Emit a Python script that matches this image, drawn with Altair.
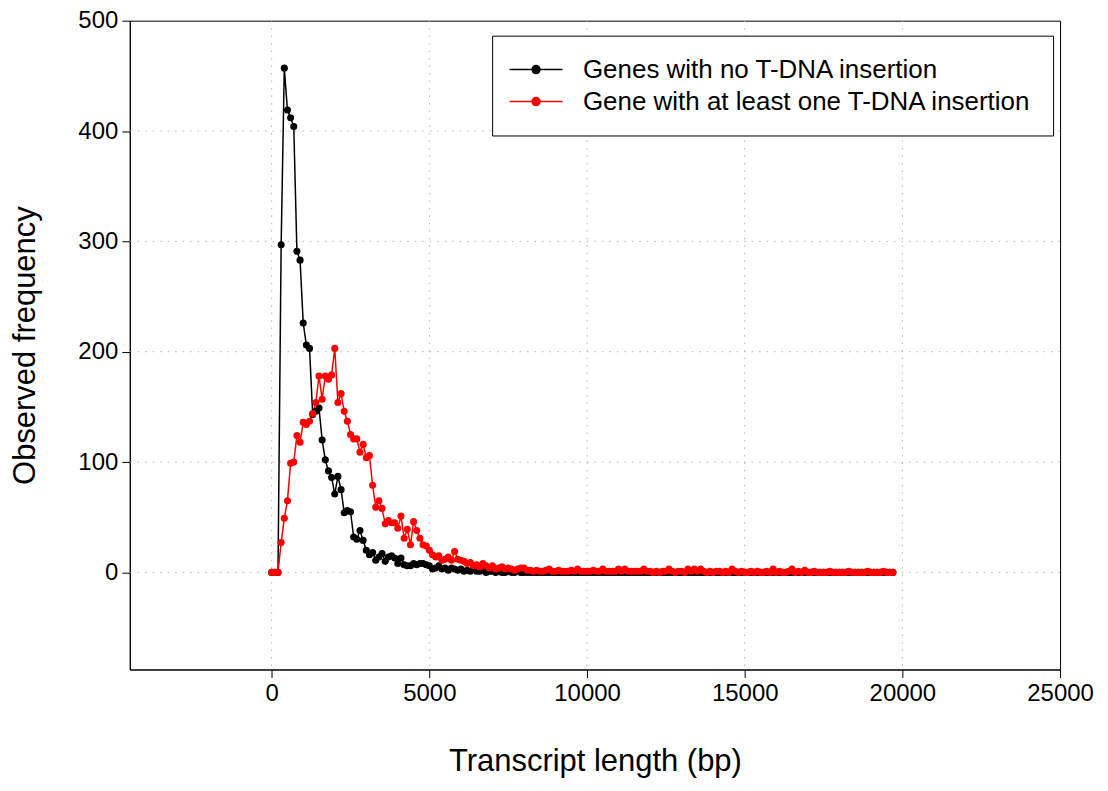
import altair as alt
import pandas as pd

series_names = ["Genes with no T-DNA insertion", "Gene with at least one T-DNA insertion"]
series_colors = ["#000000", "#ff0000"]

# transcript-length bins (bp), 100 bp wide, 0 .. 19700
bin_starts = list(range(0, 19800, 100))

black_values = [
    0, 0, 0, 297, 457, 419, 412, 404, 291, 283,
    226, 206, 203, 143, 146, 149, 120, 102, 92, 86,
    71, 87, 75, 54, 56, 55, 32, 30, 38, 29,
    20, 16, 18, 11, 14, 17, 10, 14, 15, 13,
    8, 13, 7, 6, 6, 8, 7, 8, 8, 7,
    6, 3, 4, 6, 3, 4, 2, 4, 3, 2,
    3, 1, 2, 1, 3, 1, 1, 2, 0, 1,
    1, 0, 1, 0, 0, 1, 0, 0, 1, 0,
] + [0] * 118

red_values = [
    0, 0, 0, 27, 49, 65, 99, 100, 124, 118,
    136, 134, 137, 144, 154, 178, 157, 178, 175, 179,
    203, 154, 162, 146, 137, 125, 121, 121, 109, 116,
    104, 106, 79, 59, 65, 58, 44, 47, 45, 45,
    40, 51, 31, 39, 25, 46, 38, 31, 25, 24,
    20, 16, 14, 15, 11, 12, 14, 11, 19, 12,
    11, 10, 8, 9, 6, 7, 5, 8, 6, 4,
    6, 3, 4, 5, 3, 4, 3, 2, 3, 4,
    4, 2, 2, 1, 2, 1, 1, 2, 3, 1,
    1, 2, 1, 1, 1, 2, 1, 3, 1, 1,
    1, 1, 2, 1, 1, 3, 1, 1, 1, 1,
    3, 1, 3, 1, 1, 1, 1, 1, 3, 1,
    1, 0, 1, 0, 1, 1, 3, 1, 0, 1,
    1, 0, 3, 1, 3, 1, 3, 1, 0, 1,
    0, 1, 1, 0, 1, 0, 3, 1, 0, 1,
    0, 0, 1, 0, 1, 0, 0, 1, 0, 3,
    0, 1, 0, 0, 1, 3, 0, 1, 0, 2,
    0, 0, 1, 0, 0, 0, 0, 1, 0, 0,
    0, 0, 0, 1, 0, 0, 0, 0, 0, 1,
    0, 0, 0, 0, 1, 0, 0, 0,
]

x_ticks = [0, 5000, 10000, 15000, 20000, 25000]
y_ticks = [0, 100, 200, 300, 400, 500]
x_grid = [0, 5000, 10000, 15000, 20000]
y_grid = [0, 100, 200, 300, 400]

rows = []
for name, vals in zip(series_names, [black_values, red_values]):
    for xv, yv in zip(bin_starts, vals):
        rows.append({"series": name, "length": xv, "freq": yv})
df = pd.DataFrame(rows)
gx_df = pd.DataFrame({"length": x_grid})
gy_df = pd.DataFrame({"freq": y_grid})

FONT = "Liberation Sans"
GRID_COLOR = "#b4b4b4"
GRID_DASH = [1.5, 6]

x_scale = alt.Scale(domain=[-4500, 25000], nice=False, zero=False)
y_scale = alt.Scale(domain=[-88, 500], nice=False, zero=False)

x_axis = alt.Axis(
    title="Transcript length (bp)",
    values=x_ticks,
    format="d",
    titleX=466,
    titleY=92,
    titleBaseline="middle",
)
y_axis = alt.Axis(
    title="Observed frequency",
    values=y_ticks,
    titleX=-104,
    titleY=325,
    titleBaseline="middle",
    titleAngle=-90,
)

color_scale = alt.Scale(domain=series_names, range=series_colors)
legend = alt.Legend(
    title=None,
    orient="none",
    legendX=363,
    legendY=15,
    symbolType="M-2.65,0H2.65M-0.4,0A0.4,0.4,0,1,1,0.4,0A0.4,0.4,0,1,1,-0.4,0Z",
    symbolSize=400,
    symbolStrokeWidth=1.5,
    symbolOffset=10,
    labelFont=FONT,
    labelFontSize=26,
    labelColor="black",
    labelOffset=34,
    labelLimit=800,
    padding=21,
    rowPadding=6,
    strokeColor="black",
    fillColor="white",
)

x_enc = alt.X("length:Q", scale=x_scale, axis=x_axis)
y_enc = alt.Y("freq:Q", scale=y_scale, axis=y_axis)

grid_v = alt.Chart(gx_df).mark_rule(color=GRID_COLOR, strokeDash=GRID_DASH, strokeWidth=1).encode(
    x=alt.X("length:Q", scale=x_scale, axis=x_axis)
)
grid_h = alt.Chart(gy_df).mark_rule(color=GRID_COLOR, strokeDash=GRID_DASH, strokeWidth=1).encode(
    y=alt.Y("freq:Q", scale=y_scale, axis=y_axis)
)

lines = alt.Chart(df).mark_line(strokeWidth=1.5).encode(
    x=x_enc,
    y=y_enc,
    stroke=alt.Stroke("series:N", scale=color_scale, legend=legend, sort=series_names),
    detail="series:N",
)
points = alt.Chart(df).mark_circle(size=50, opacity=1).encode(
    x=x_enc,
    y=y_enc,
    fill=alt.Fill("series:N", scale=color_scale, legend=legend, sort=series_names),
)

chart = (
    alt.layer(grid_v, grid_h, lines, points)
    .properties(
        width=932,
        height=650,
        autosize=alt.AutoSizeParams(type="none"),
        padding={"left": 122, "top": 12, "right": 40, "bottom": 114},
        background="white",
    )
    .configure_view(stroke="black", strokeWidth=1)
    .configure_axis(
        labelFont=FONT,
        titleFont=FONT,
        labelFontSize=24,
        titleFontSize=31,
        titleFontWeight="normal",
        labelColor="black",
        titleColor="black",
        domainColor="black",
        tickColor="black",
        tickSize=8,
        labelPadding=4,
        labelFlush=False,
        grid=False,
    )
)

chart.save("out.html", embed_options={"renderer": "svg", "actions": False})
